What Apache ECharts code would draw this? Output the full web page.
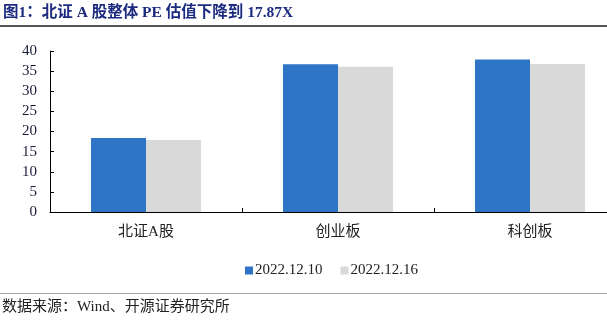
<!DOCTYPE html>
<html><head><meta charset="utf-8">
<script src="https://cdn.jsdelivr.net/npm/echarts@6/dist/echarts.min.js"></script>
<style>html,body{margin:0;padding:0;background:#fff;overflow:hidden;width:607px;height:324px}#c{width:626px;height:324px}</style>
</head><body><div id="c"></div>
<script>
const categories = ['北证A股', '创业板', '科创板'];
const seriesNames = ['2022.12.10', '2022.12.16'];
const values1210 = [18.4, 36.7, 37.9];
const values1216 = [17.87, 36.1, 36.8];
const yTicks = { min: 0, max: 40, interval: 5 };

const serif = '"Liberation Serif", "Times New Roman", "Noto Sans CJK SC", serif';
const cjk = '"Liberation Serif", "Noto Sans CJK SC", serif';
const chart = echarts.init(document.getElementById('c'));
chart.setOption({
  animation: false,
  backgroundColor: '#fff',
  grid: { left: 50, right: 0, top: 51, bottom: 112, containLabel: false },
  legend: {
    data: seriesNames, top: 258, left: 240, itemWidth: 8, itemHeight: 8, itemGap: 18,
    icon: 'rect', textStyle: { fontFamily: serif, fontSize: 15, color: '#222', padding: [0, 0, 0, -3] }
  },
  xAxis: {
    type: 'category', data: categories,
    axisLine: { lineStyle: { color: '#000', width: 1 } },
    axisTick: { show: true, length: 4, inside: true, lineStyle: { color: '#000' } },
    axisLabel: { fontFamily: cjk, fontSize: 15, color: '#222', margin: 13 }
  },
  yAxis: {
    type: 'value', min: yTicks.min, max: yTicks.max, interval: yTicks.interval,
    splitLine: { show: false },
    axisLine: { show: true, lineStyle: { color: '#000' } },
    axisTick: { show: true, inside: true, length: 4, lineStyle: { color: '#000' } },
    axisLabel: { fontFamily: serif, fontSize: 15, color: '#1a1a3a', margin: 13 }
  },
  series: [
    { name: seriesNames[0], type: 'bar', data: values1210, barGap: '0%', barCategoryGap: '42.7%',
      itemStyle: { color: '#2e75c6' } },
    { name: seriesNames[1], type: 'bar', data: values1216,
      itemStyle: { color: '#d9d9d9' } }
  ],
  graphic: [
    { type: 'text', left: 3, top: 5, style: { text: '图1：北证 A 股整体 PE 估值下降到 17.87X', font: 'bold 15.5px "Liberation Serif", "Noto Sans CJK SC", serif', fill: '#1c2b80' } },
    { type: 'rect', shape: { x: 0, y: 25, width: 626, height: 2 }, style: { fill: '#555' } },
    { type: 'rect', shape: { x: 0, y: 293, width: 626, height: 1 }, style: { fill: '#aaa' } },
    { type: 'text', left: 2, top: 300, style: { text: '数据来源：Wind、开源证券研究所', font: '15px "Liberation Serif", "Noto Sans CJK SC", serif', fill: '#222' } }
  ]
});
</script></body></html>
